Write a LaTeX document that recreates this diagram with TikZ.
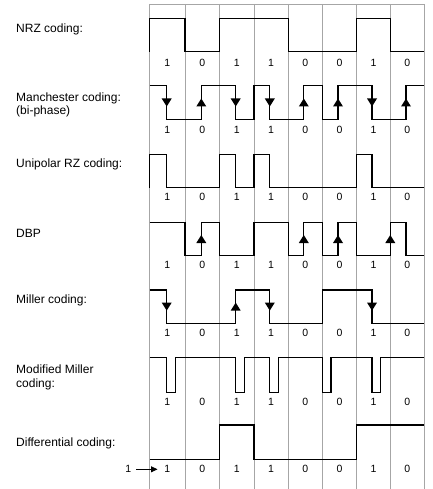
\documentclass[tikz,border=0pt]{standalone}
\usepackage{fontspec}
\setmainfont{Liberation Sans}
\usetikzlibrary{arrows.meta}
\begin{document}
\begin{tikzpicture}[x=1pt,y=-1pt,
  gridline/.style={draw=gray!70, line width=0.8pt},
  sig/.style={draw=black, line width=1.3pt, line join=miter},
  lbl/.style={anchor=west, inner sep=0pt, font=\fontsize{12}{14}\selectfont},
  bit/.style={inner sep=0pt, font=\fontsize{10.5}{12}\selectfont},
  conn/.style={draw=black, line width=0.8pt, -{Triangle[width=6pt,length=6.5pt]}}]
\useasboundingbox (0,0) rectangle (432,489);
% grid positions
\def\gA{149.5}\def\gB{185}\def\gC{219.5}\def\gD{254}\def\gE{288.3}\def\gF{322.4}\def\gG{356.6}\def\gH{390.3}\def\gI{424.3}
\def\mA{166.7}\def\mB{201.3}\def\mC{235.7}\def\mD{269.8}\def\mE{303.8}\def\mF{338}\def\mG{372}\def\mH{406}
\newcommand\sigdn[2]{\fill (#1-5,#2-4) -- (#1+5,#2-4) -- (#1,#2+4) -- cycle;}
\newcommand\sigup[2]{\fill (#1-5,#2+4) -- (#1+5,#2+4) -- (#1,#2-4) -- cycle;}
% grid
\foreach \x in {\gA,\gB,\gC,\gD,\gE,\gF,\gG,\gH,\gI} \draw[gridline] (\x,4) -- (\x,489);
\draw[gridline] (\gA,4) -- (\gI,4);
% labels
\node[lbl] (lnrz) at (16,29) {NRZ coding:};
\node[lbl] (lman1) at (16,98.3) {Manchester coding:};
\node[lbl] (lman2) at (16,111) {(bi-phase)};
\node[lbl] (luni) at (16,164.3) {Unipolar RZ coding:};
\node[lbl] (ldbp) at (16,233.3) {DBP};
\node[lbl] (lmil) at (16,300.7) {Miller coding:};
\node[lbl] (lmod1) at (16,369.3) {Modified Miller};
\node[lbl] (lmod2) at (16,384) {coding:};
\node[lbl] (ldif) at (16,443.3) {Differential coding:};
% bits
\foreach \r/\y in {ra/62.7, rb/130, rc/197.3, rd/265, re/332.7, rf/401.7, rg/469.3}{
  \foreach \c/\b [count=\k] in {167.25/1, 202.25/0, 236.75/1, 271.15/1, 305.35/0, 339.5/0, 373.45/1, 407.3/0}
    \node[bit] (\r\k) at (\c,\y) {\b};
}
% NRZ
\def\H{18.3}\def\L{51.7}
\draw[sig] (\gA,\L)--(\gA,\H)--(\gB,\H)--(\gB,\L)--(\gC,\L)--(\gC,\H)--(\gE,\H)--(\gE,\L)--(\gG,\L)--(\gG,\H)--(\gH,\H)--(\gH,\L)--(\gI,\L);
% Manchester
\def\H{85.7}\def\L{119.3}\def\M{102.5}
\draw[sig] (\gA,\H)--(\mA,\H)--(\mA,\L)--(\mB,\L)--(\mB,\H)--(\mC,\H)--(\mC,\L)--(\gD,\L)--(\gD,\H)--(\mD,\H)--(\mD,\L)--(\mE,\L)--(\mE,\H)--(\gF,\H)--(\gF,\L)--(\mF,\L)--(\mF,\H)--(\mG,\H)--(\mG,\L)--(\mH,\L)--(\mH,\H)--(\gI,\H);
\sigdn{\mA}{\M}\sigup{\mB}{\M}\sigdn{\mC}{\M}\sigdn{\mD}{\M}\sigup{\mE}{\M}\sigup{\mF}{\M}\sigdn{\mG}{\M}\sigup{\mH}{\M}
% Unipolar RZ
\def\H{154.3}\def\L{187.7}
\draw[sig] (\gA,\L)--(\gA,\H)--(\mA,\H)--(\mA,\L)--(\gC,\L)--(\gC,\H)--(\mC,\H)--(\mC,\L)--(\gD,\L)--(\gD,\H)--(\mD,\H)--(\mD,\L)--(\gG,\L)--(\gG,\H)--(\mG,\H)--(\mG,\L)--(\gI,\L);
% DBP
\def\H{222.3}\def\L{255.7}\def\M{239}
\draw[sig] (\gA,\H)--(\gB,\H)--(\gB,\L)--(\mB,\L)--(\mB,\H)--(\gC,\H)--(\gC,\L)--(\gD,\L)--(\gD,\H)--(\gE,\H)--(\gE,\L)--(\mE,\L)--(\mE,\H)--(\gF,\H)--(\gF,\L)--(\mF,\L)--(\mF,\H)--(\gG,\H)--(\gG,\L)--(\gH,\L)--(\gH,\H)--(\mH,\H)--(\mH,\L)--(\gI,\L);
\sigup{\mB}{\M}\sigup{\mE}{\M}\sigup{\mF}{\M}\sigup{\gH}{\M}
% Miller
\def\H{290}\def\L{323.3}\def\M{306.6}
\draw[sig] (\gA,\H)--(\mA,\H)--(\mA,\L)--(\mC,\L)--(\mC,\H)--(\mD,\H)--(\mD,\L)--(\gF,\L)--(\gF,\H)--(\mG,\H)--(\mG,\L)--(\gI,\L);
\sigdn{\mA}{\M}\sigup{\mC}{\M}\sigdn{\mD}{\M}\sigdn{\mG}{\M}
% Modified Miller
\def\H{357.5}\def\L{392.3}
\draw[sig] (\gA,\H)--(\mA,\H)--(\mA,\L)--(\mA+8.5,\L)--(\mA+8.5,\H)
  --(\mC,\H)--(\mC,\L)--(\mC+8.5,\L)--(\mC+8.5,\H)
  --(\mD,\H)--(\mD,\L)--(\mD+8.5,\L)--(\mD+8.5,\H)
  --(\gF,\H)--(\gF,\L)--(\gF+8.5,\L)--(\gF+8.5,\H)
  --(\mG,\H)--(\mG,\L)--(\mG+8.5,\L)--(\mG+8.5,\H)--(\gI,\H);
% Differential
\def\H{425}\def\L{459.3}
\draw[sig] (\gA,\L)--(\gC,\L)--(\gC,\H)--(\gD,\H)--(\gD,\L)--(\gG,\L)--(\gG,\H)--(\gI,\H);
\node[bit] (start) at (128.3,469.3) {1};
\coordinate (starttip) at (157.5,469.3);
\draw[conn, shorten <=5pt] (start) -- (starttip);
\end{tikzpicture}
\end{document}
